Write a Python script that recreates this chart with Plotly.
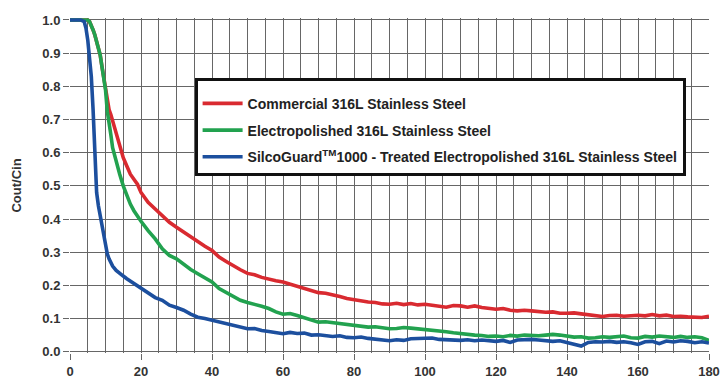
import plotly.graph_objects as go

time = [0, 1, 2, 3, 4, 4.5, 5, 5.5, 6, 6.5, 7, 7.5, 8, 8.5, 9, 9.5, 10, 10.5, 11, 11.5, 12,
        13, 14, 15, 16, 17, 18, 19, 20] + list(range(22, 181, 2))

commercial = [1.0, 1.0, 1.0, 1.0, 1.0, 1.0, 1.0, 0.995, 0.985, 0.97, 0.955, 0.935, 0.915, 0.895, 0.86, 0.825,
              0.795, 0.76, 0.73, 0.715, 0.695, 0.66, 0.625, 0.585, 0.56, 0.535, 0.52, 0.505, 0.48,
              0.45, 0.43, 0.41, 0.39, 0.375, 0.36, 0.345, 0.33, 0.318, 0.305,
              0.285, 0.272, 0.258, 0.247, 0.236, 0.232, 0.224, 0.218, 0.214, 0.21,
              0.204, 0.197, 0.19, 0.184, 0.178, 0.176, 0.172, 0.166, 0.16, 0.156,
              0.153, 0.15, 0.148, 0.144, 0.143, 0.146, 0.142, 0.145, 0.141, 0.143,
              0.14, 0.137, 0.134, 0.139, 0.138, 0.134, 0.138, 0.133, 0.131, 0.128,
              0.13, 0.125, 0.123, 0.125, 0.123, 0.121, 0.119, 0.12, 0.116, 0.116,
              0.117, 0.114, 0.112, 0.108, 0.106, 0.109, 0.11, 0.107, 0.109, 0.11,
              0.108, 0.112, 0.108, 0.11, 0.106, 0.107, 0.105, 0.104, 0.103, 0.107]

electropolished = [1.0, 1.0, 1.0, 1.0, 1.0, 1.0, 1.0, 0.995, 0.985, 0.97, 0.955, 0.935, 0.915, 0.895, 0.86, 0.825,
                   0.79, 0.725, 0.68, 0.655, 0.615, 0.57, 0.535, 0.5, 0.47, 0.445, 0.425, 0.408, 0.393,
                   0.365, 0.34, 0.31, 0.29, 0.28, 0.263, 0.248, 0.235, 0.222, 0.21,
                   0.19, 0.178, 0.164, 0.155, 0.148, 0.143, 0.137, 0.13, 0.12, 0.113,
                   0.115, 0.109, 0.102, 0.094, 0.089, 0.09, 0.087, 0.084, 0.081, 0.079,
                   0.077, 0.074, 0.075, 0.071, 0.069, 0.07, 0.073, 0.071, 0.069, 0.068,
                   0.066, 0.062, 0.06, 0.057, 0.054, 0.052, 0.05, 0.049, 0.046, 0.047,
                   0.045, 0.049, 0.047, 0.05, 0.049, 0.048, 0.05, 0.052, 0.05, 0.047,
                   0.044, 0.045, 0.041, 0.042, 0.045, 0.043, 0.046, 0.047, 0.042, 0.041,
                   0.046, 0.044, 0.047, 0.045, 0.043, 0.046, 0.043, 0.045, 0.042, 0.034]

silcoguard = [1.0, 1.0, 1.0, 1.0, 0.995, 0.975, 0.94, 0.89, 0.83, 0.73, 0.57, 0.48, 0.44, 0.41, 0.37, 0.34,
              0.315, 0.295, 0.28, 0.268, 0.258, 0.245, 0.235, 0.228, 0.22, 0.213, 0.205, 0.198, 0.192,
              0.18, 0.163, 0.155, 0.14, 0.133, 0.125, 0.113, 0.104, 0.1, 0.095,
              0.089, 0.083, 0.079, 0.074, 0.069, 0.07, 0.064, 0.061, 0.058, 0.054,
              0.058, 0.055, 0.056, 0.05, 0.051, 0.049, 0.046, 0.048, 0.043, 0.042,
              0.044, 0.04, 0.038, 0.036, 0.033, 0.036, 0.034, 0.039, 0.04, 0.039,
              0.041, 0.037, 0.036, 0.035, 0.034, 0.036, 0.033, 0.035, 0.032, 0.031,
              0.034, 0.028, 0.035, 0.037, 0.037, 0.035, 0.032, 0.031, 0.033, 0.027,
              0.022, 0.017, 0.028, 0.03, 0.029, 0.031, 0.028, 0.03, 0.027, 0.022,
              0.03, 0.031, 0.024, 0.032, 0.029, 0.033, 0.031, 0.027, 0.03, 0.026]

series_names = ["Commercial 316L Stainless Steel",
                "Electropolished 316L Stainless Steel",
                "SilcoGuard<sup>TM</sup>1000 - Treated Electropolished 316L Stainless Steel"]
series_colors = ["#d92a30", "#22a24f", "#1c4f9e"]
x_ticks = [0, 20, 40, 60, 80, 100, 120, 140, 160, 180]
y_ticks = [0.0, 0.1, 0.2, 0.3, 0.4, 0.5, 0.6, 0.7, 0.8, 0.9, 1.0]

FONT = "Liberation Sans"
fig = go.Figure()
for i, (vals, name, col) in enumerate(zip([commercial, electropolished, silcoguard], series_names, series_colors)):
    fig.add_trace(go.Scatter(x=time, y=vals, mode="lines", name=name, legendgroup=f"g{i}",
                             line=dict(color=col, width=3.6)))

grid_col = "#666666"
fig.update_layout(
    width=721, height=378,
    margin=dict(l=70, r=12, t=18, b=25, autoexpand=False),
    paper_bgcolor="white", plot_bgcolor="white",
    font=dict(family=FONT, size=13, color="#333333", weight="bold"),
    showlegend=True,
    legend=dict(x=0.195, y=0.82, xanchor="left", yanchor="top",
                bgcolor="white", bordercolor="#111111", borderwidth=3,
                font=dict(family=FONT, size=14, color="#222222", weight="bold"),
                title=dict(text=" ", font=dict(size=5)),
                tracegroupgap=5.5, itemwidth=40),
    xaxis=dict(range=[0, 180], tickvals=x_ticks, showgrid=True, gridcolor=grid_col, gridwidth=1,
               minor=dict(dtick=5, showgrid=True, gridcolor=grid_col, gridwidth=1),
               ticks="outside", ticklen=6, tickcolor=grid_col, zeroline=False, automargin=False,
               ticklabeloverflow="allow", showline=False, tickfont=dict(size=13)),
    yaxis=dict(range=[-0.004, 1.006], tickvals=y_ticks, tickformat=".1f", showgrid=True,
               gridcolor=grid_col, gridwidth=1, ticks="outside", ticklen=6, tickcolor=grid_col,
               zeroline=False, showline=False, tickfont=dict(size=13), automargin=False,
               title=dict(text="Cout/Cin", font=dict(size=13), standoff=17)),
)
fig.write_html("out.html", config={"displayModeBar": False},
               post_script="document.body.style.margin='0';")
